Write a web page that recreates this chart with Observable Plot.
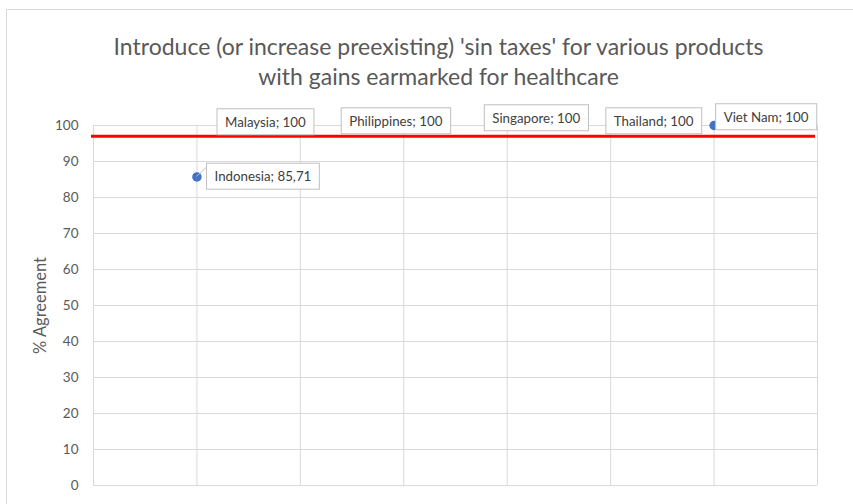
<!DOCTYPE html>
<html><head><meta charset="utf-8">
<script src="https://cdn.jsdelivr.net/npm/d3@7"></script>
<script src="https://cdn.jsdelivr.net/npm/@observablehq/plot@0.6"></script>
<style>
body{margin:0;background:#fff;}
#wrap{position:relative;width:853px;height:504px;overflow:hidden;}
#frame{position:absolute;left:6px;top:9px;width:900px;height:600px;border:1px solid #d9d9d9;box-sizing:border-box;}
#chart{position:absolute;left:0;top:0;}
</style></head><body>
<div id="wrap"><div id="frame"></div><div id="chart"></div></div>
<script>
// ---- data ----
const countries = ["Indonesia", "Malaysia", "Philippines", "Singapore", "Thailand", "Viet Nam"];
const agreement = [85.71, 100, 100, 100, 100, 100];
const positions = [1, 2, 3, 4, 5, 6];
const threshold = [97];
const yTicks = [0, 10, 20, 30, 40, 50, 60, 70, 80, 90, 100];
const xGridLines = [0, 1, 2, 3, 4, 5, 6, 7];
const titleText = "Introduce (or increase preexisting) 'sin taxes' for various products\nwith gains earmarked for healthcare";
const yLabelText = "% Agreement";

const data = countries.map((c, i) => ({
  country: c, x: positions[i], value: agreement[i],
  label: `${c}; ${String(agreement[i]).replace(".", ",")}`
}));

// ---- style: label placement offsets (pixels) ----
const labelOffsets = {
  "Indonesia": [66, 0], "Malaysia": [-35, -3], "Philippines": [-8, -4],
  "Singapore": [29, -7], "Thailand": [43, -4], "Viet Nam": [52, -8]
};

const font = "Lato, 'Open Sans', sans-serif";

const chart = Plot.plot({
  width: 853, height: 504,
  marginLeft: 93, marginRight: 36, marginTop: 125, marginBottom: 19,
  style: {fontFamily: font, background: "transparent", overflow: "visible"},
  x: {domain: [0, 7], axis: null},
  y: {domain: [0, 100]},
  marks: [
    Plot.gridY(yTicks, {stroke: "#d9d9d9", strokeOpacity: 1, strokeWidth: 1}),
    Plot.gridX(xGridLines, {stroke: "#d9d9d9", strokeOpacity: 1, strokeWidth: 1}),
    Plot.axisY({ticks: yTicks, tickSize: 0, tickPadding: 15, fontSize: 13.5, fill: "#595959", label: null}),
    Plot.text([yLabelText], {frameAnchor: "left", text: d => d, rotate: -90, dx: -53, textAnchor: "middle", fontSize: 16.5, fill: "#595959"}),
    Plot.text([titleText], {frameAnchor: "top", text: d => d, dy: -65, dx: -17, lineAnchor: "middle", lineHeight: 1.3, fontSize: 23, fill: "#595959", textAnchor: "middle"}),
    Plot.ruleY(threshold, {x1: 0, x2: 7, stroke: "#ff0000", strokeWidth: 3, dx: -2}),
    Plot.dot(data, {x: "x", y: "value", r: 4, fill: "#4472C4", stroke: "#4472C4"}),
    ...countries.map(c => Plot.text(data.filter(d => d.country === c), {
      x: "x", y: "value", text: "label",
      dx: labelOffsets[c][0], dy: labelOffsets[c][1],
      fontSize: 13.3, fill: "#404040"
    }))
  ]
});
document.getElementById("chart").append(chart);

// boxes behind data labels + leader line
const svgRect = chart.getBoundingClientRect();
const sx = chart.scale("x"), sy = chart.scale("y");
const labelSet = new Map(data.map(d => [d.label, d]));
chart.querySelectorAll("text").forEach(t => {
  const d = labelSet.get(t.textContent);
  if (!d) return;
  const bb = t.getBBox();
  const padX = 8, padY = 5;
  const r = document.createElementNS("http://www.w3.org/2000/svg", "rect");
  r.setAttribute("x", bb.x - padX);
  r.setAttribute("y", bb.y - padY);
  r.setAttribute("width", bb.width + 2 * padX);
  r.setAttribute("height", bb.height + 2 * padY);
  r.setAttribute("fill", "#ffffff");
  r.setAttribute("stroke", "#bfbfbf");
  r.setAttribute("stroke-width", "1");
  if (t.getAttribute("transform")) r.setAttribute("transform", t.getAttribute("transform"));
  t.parentNode.insertBefore(r, t);
  if (d.value < 100) {
    const rb = r.getBoundingClientRect();
    const px = sx.apply(d.x), py = sy.apply(d.value);
    const ln = document.createElementNS("http://www.w3.org/2000/svg", "line");
    ln.setAttribute("x1", px); ln.setAttribute("y1", py);
    ln.setAttribute("x2", rb.left - svgRect.left); ln.setAttribute("y2", rb.top - svgRect.top + 4);
    ln.setAttribute("stroke", "#bfbfbf");
    t.parentNode.parentNode.insertBefore(ln, t.parentNode);
  }
});
</script>
</body></html>
